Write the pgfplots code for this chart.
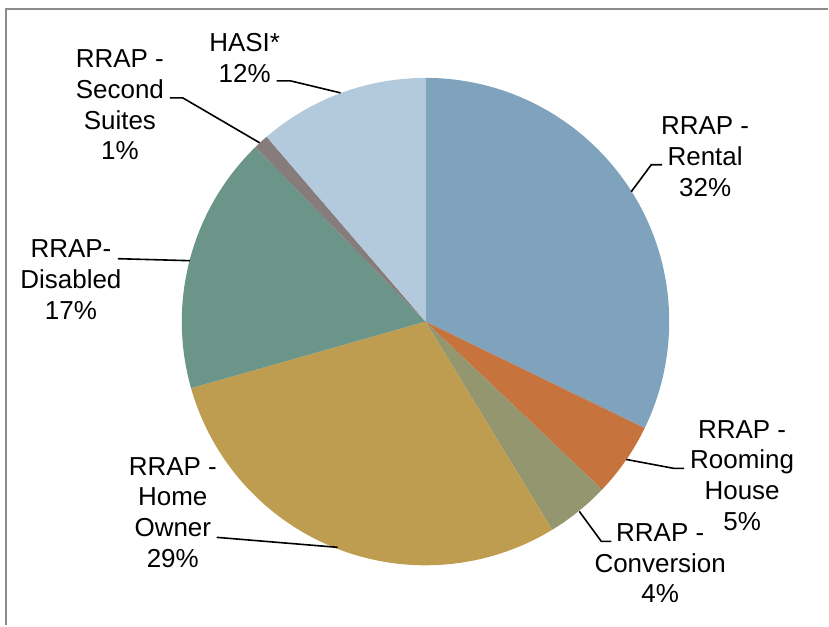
\documentclass[border=0pt]{standalone}
\usepackage{pgfplots}
\usepackage{pgfplotstable}
\pgfplotsset{compat=1.18}
\usepackage{fontspec}
\setmainfont{Liberation Sans}
\definecolor{c0}{HTML}{7FA2BD}
\definecolor{c1}{HTML}{C7733E}
\definecolor{c2}{HTML}{949670}
\definecolor{c3}{HTML}{BF9D50}
\definecolor{c4}{HTML}{6B9589}
\definecolor{c5}{HTML}{867C7B}
\definecolor{c6}{HTML}{B3C9DC}
\definecolor{framegray}{HTML}{8C8C8C}
\tikzset{lbl/.style={align=center, font={\fontsize{13}{15.35}\selectfont}, inner sep=0pt}}
\pgfplotstableread{
share
32.2
4.9
4.2
29.3
17.1
1.0
11.3
}\piedata
\begin{document}
\begin{tikzpicture}
\begin{axis}[
  scale only axis, width=414.5pt, height=313pt,
  xmin=0, xmax=829, ymin=-626, ymax=0,
  hide axis, clip=false,
]
\path[draw=none] (axis cs:0,0) rectangle (axis cs:829,-626);
\draw[framegray, line width=1pt] (axis cs:6,-626) -- (axis cs:6,-9) -- (axis cs:829,-9);
\pgfmathsetmacro\cum{0}
\pgfplotsforeachungrouped \i in {0,...,6}{%
  \pgfplotstablegetelem{\i}{share}\of\piedata
  \let\v\pgfplotsretval
  \pgfmathsetmacro\a{90-3.6*\cum}%
  \pgfmathsetmacro\b{90-3.6*(\cum+\v)}%
  \edef\temp{\noexpand\fill[fill=c\i] (axis cs:426,-322) -- ++(\a:122pt) arc[start angle=\a, end angle=\b, radius=122pt] -- cycle;}%
  \temp
  \pgfmathsetmacro\cum{\cum+\v}%
}
% leader lines
\draw[black, line width=0.8pt] (axis cs:277,-81) -- (axis cs:291,-81) -- (axis cs:341,-93);
\draw[black, line width=0.8pt] (axis cs:170,-98) -- (axis cs:183,-98) -- (axis cs:260,-143);
\draw[black, line width=0.8pt] (axis cs:663,-165) -- (axis cs:652,-165) -- (axis cs:632,-192);
\draw[black, line width=0.8pt] (axis cs:685,-469) -- (axis cs:675,-469) -- (axis cs:627,-460);
\draw[black, line width=0.8pt] (axis cs:118,-259) -- (axis cs:190,-261);
\draw[black, line width=0.8pt] (axis cs:217,-538) -- (axis cs:338,-548);
\draw[black, line width=0.8pt] (axis cs:612,-542) -- (axis cs:602,-542) -- (axis cs:580,-512);
% labels
\node[lbl] at (axis cs:245,-58) {HASI*\\12\%};
\node[lbl] at (axis cs:120,-105) {RRAP -\\Second\\Suites\\1\%};
\node[lbl] at (axis cs:706,-157) {RRAP -\\Rental\\32\%};
\node[lbl] at (axis cs:743,-476) {RRAP -\\Rooming\\House\\5\%};
\node[lbl] at (axis cs:71,-280) {RRAP-\\Disabled\\17\%};
\node[lbl] at (axis cs:173,-513) {RRAP -\\Home\\Owner\\29\%};
\node[lbl] at (axis cs:661,-564) {RRAP -\\Conversion\\4\%};
\end{axis}
\end{tikzpicture}
\end{document}
